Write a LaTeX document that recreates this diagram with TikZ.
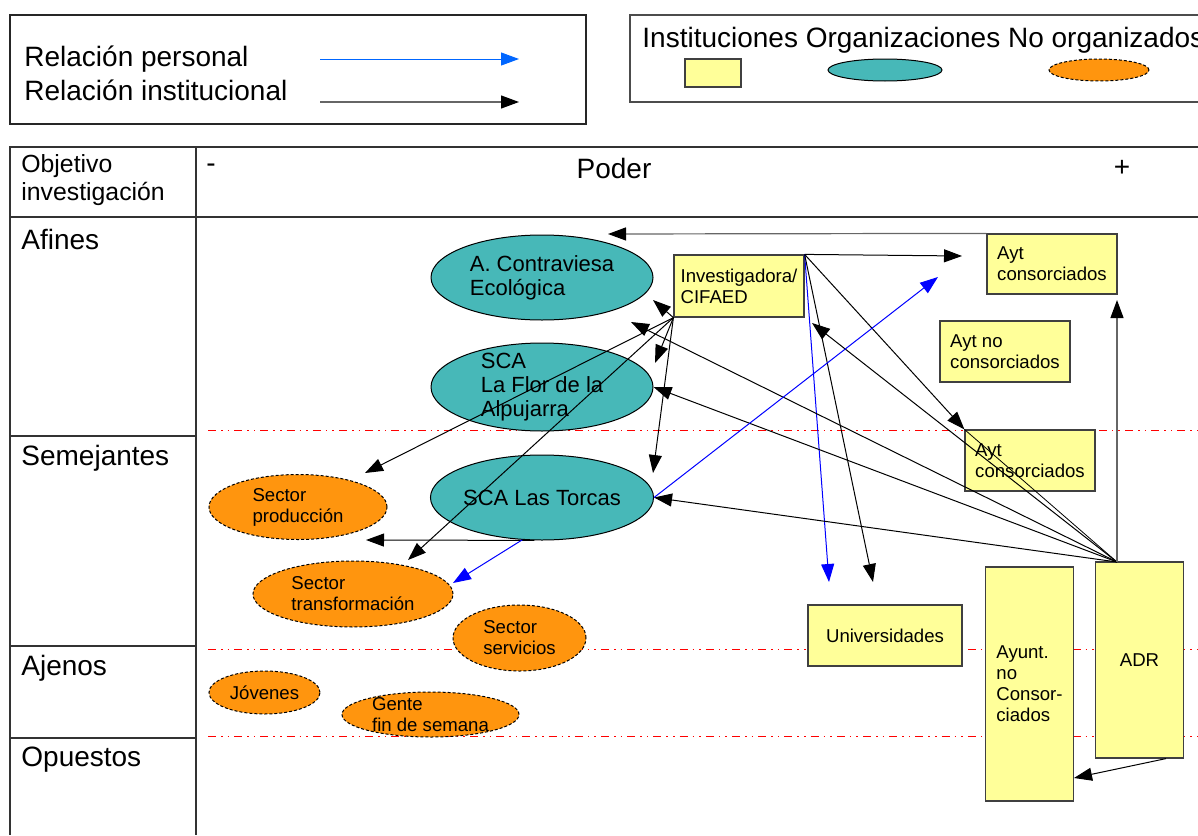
\documentclass[tikz,border=0pt]{standalone}
\usepackage{fontspec}
\setmainfont{Liberation Sans}
\usepackage{xcolor}
\definecolor{InstAmarillo}{RGB}{255,255,153}
\definecolor{OrgTurquesa}{RGB}{71,184,184}
\definecolor{NoOrgNaranja}{RGB}{255,149,14}
\definecolor{RelAzul}{RGB}{0,0,255}
\definecolor{LeyAzul}{RGB}{0,102,255}
\usepackage{tikz}
\usetikzlibrary{shapes.geometric, arrows.meta}

\begin{document}
\begin{tikzpicture}[x=0.5pt, y=-0.5pt,
	every node/.style={inner sep=0pt},
	grande/.style={font=\fontsize{14}{16}\selectfont},
	medio/.style={font=\fontsize{11}{12}\selectfont},
	chico/.style={font=\fontsize{9.3}{10.5}\selectfont},
	inst/.style={chico, rectangle, draw=black!75, fill=InstAmarillo, line width=0.6pt, align=left},
	org/.style={medio, ellipse, draw, fill=OrgTurquesa, line width=0.5pt, align=left},
	noorg/.style={chico, ellipse, draw, dash pattern=on 1.5pt off 1pt, fill=NoOrgNaranja, line width=0.5pt, align=left},
	rel/.style={-{Triangle[length=9pt,width=6.5pt]}, line width=0.5pt},
	relgris/.style={-{Triangle[length=9pt,width=6.5pt,black]}, line width=0.6pt, black!60},
	relper/.style={rel, RelAzul},
	tabla/.style={draw=black!80, line width=0.75pt},
	nivel/.style={red, line width=0.6pt, dash pattern=on 4pt off 2.5pt on 0.8pt off 2.5pt on 0.8pt off 2.5pt}]
			\clip (0,0) rectangle (1198,835);
			% Leyenda relaciones
			\draw[black!85, line width=0.6pt] (10,15) rectangle (586,124);
			\node[grande, anchor=west] (lper) at (24,59) {Relación personal};
			\node[grande, anchor=west] (linst) at (24,90) {Relación institucional};
			\coordinate (lper1) at (320,59);
			\coordinate (lper2) at (519,59);
			\coordinate (linst1) at (320,102);
			\coordinate (linst2) at (519,102);
			\draw[rel, LeyAzul] (lper1) -- (lper2);
			\draw[relgris] (linst1) -- (linst2);
			% Leyenda actores
			\draw[black!70, line width=0.6pt] (1198,15) -- (630,15) -- (630,102) -- (1198,102);
			\node[grande, anchor=west] (lactores) at (642,40) {Instituciones Organizaciones No organizados};
			\node[inst, minimum width=28pt, minimum height=14pt] (lcaja) at (713,73) {};
			\node[org, minimum width=57pt, minimum height=11pt] (lorg) at (885,70) {};
			\node[noorg, minimum width=50pt, minimum height=11pt] (lnoorg) at (1099,70) {};
			% Tabla
			\draw[tabla] (1198,147) -- (10,147) -- (10,835);
			\draw[tabla] (10,217) -- (1198,217);
			\draw[tabla] (196,147) -- (196,835);
			\foreach \y in {436,646,738}
				\draw[tabla] (10,\y) -- (196,\y);
			\node[anchor=west, align=left, font=\fontsize{12.4}{14}\selectfont] (objetivo) at (21,180) {Objetivo\\investigación};
			\node[grande] (menos) at (211,168) {-};
			\node[grande] (poder) at (614,168) {Poder};
			\node[grande] (mas) at (1122,168) {+};
			\node[grande, anchor=west] (afines) at (21,239) {Afines};
			\node[grande, anchor=west] (semejantes) at (21,458) {Semejantes};
			\node[grande, anchor=west] (ajenos) at (21,668) {Ajenos};
			\node[grande, anchor=west] (opuestos) at (21,760) {Opuestos};
			\foreach \y in {430.5,649.5,736.5}
				\draw[nivel] (208,\y) -- (1198,\y);
			% Organizaciones
			\node[org, minimum width=111pt, minimum height=42.5pt] (contraviesa) at (542,277.5) {A. Contraviesa\\Ecológica};
			\node[org, minimum width=111pt, minimum height=44pt, inner ysep=-2pt] (laflor) at (542,387) {SCA\\La Flor de la\\Alpujarra};
			\node[org, minimum width=111pt, minimum height=42.5pt] (torcas) at (542,497.5) {SCA Las Torcas};
			% No organizados
			\node[noorg, minimum width=89pt, minimum height=32.5pt] (produccion) at (298,507) {Sector\\producción};
			\node[noorg, minimum width=100pt, minimum height=33pt] (transformacion) at (353,594) {Sector\\transformación};
			\node[noorg, minimum width=66.5pt, minimum height=33pt] (servicios) at (519.5,638) {Sector\\servicios};
			\node[noorg, minimum width=55.5pt, minimum height=21.5pt] (jovenes) at (264.5,692.5) {Jóvenes};
			\node[noorg, minimum width=88.5pt, minimum height=22.5pt, inner ysep=-1pt] (gente) at (430.5,714.5) {Gente\\fin de semana};
			% Instituciones
			\node[inst, minimum width=65pt, minimum height=31pt] (cifaed) at (739,286) {Investigadora/\\CIFAED};
			\node[inst, minimum width=65pt, minimum height=30pt] (aytcons) at (1052,264) {Ayt\\consorciados};
			\node[inst, minimum width=65pt, minimum height=30.5pt] (aytnocons) at (1005,351.5) {Ayt no\\consorciados};
			\node[inst, minimum width=65pt, minimum height=30.5pt] (aytcons2) at (1030,460.5) {Ayt\\consorciados};
			\node[inst, minimum width=77pt, minimum height=30.5pt] (univ) at (885,635.5) {Universidades};
			\node[inst, minimum width=44pt, minimum height=117pt] (ayunt) at (1029.5,684) {Ayunt.\\no\\Consor-\\ciados};
			\node[inst, minimum width=44pt, minimum height=98pt] (adr) at (1139.5,660) {ADR};
			% Extremos libres de las flechas
			\coordinate (fAyt) at (608,234);
			\coordinate (fCifaedAyt) at (962,256);
			\coordinate (fUnivAzul) at (829,582);
			\coordinate (fUnivNegra) at (873,582);
			\coordinate (fContra1) at (653,300);
			\coordinate (fFlor1) at (655,363);
			\coordinate (fTorcas1) at (653,473);
			\coordinate (fProd1) at (365,473);
			\coordinate (fTransf1) at (408,560);
			\coordinate (adrtop) at (1117,562);
			\coordinate (fContra2) at (631,322);
			\coordinate (fCifaed2) at (812,323);
			\coordinate (fAytAdr) at (1117,300);
			\coordinate (fAyunt) at (1074,778);
			\coordinate (fTorcasAzul) at (938,277);
			\coordinate (fProd2) at (366,540);
			\coordinate (fTransf2) at (453,583);
			% Relaciones desde la investigadora
			\draw[relgris] (aytcons.north west) -- (fAyt);
			\draw[rel] (cifaed.north east) -- (fCifaedAyt);
			\draw[rel] (cifaed.north east) -- (aytcons2.north west);
			\draw[relper] (cifaed.north east) -- (fUnivAzul);
			\draw[rel] (cifaed.north east) -- (fUnivNegra);
			\draw[rel] (cifaed.south west) -- (fContra1);
			\draw[rel] (cifaed.south west) -- (fFlor1);
			\draw[rel] (cifaed.south west) -- (fTorcas1);
			\draw[rel] (cifaed.south west) -- (fProd1);
			\draw[rel] (cifaed.south west) -- (fTransf1);
			% Relaciones desde ADR
			\draw[rel] (adrtop) -- (torcas.east);
			\draw[rel] (adrtop) -- (laflor.east);
			\draw[rel] (adrtop) -- (fContra2);
			\draw[rel] (adrtop) -- (fCifaed2);
			\draw (adrtop) -- (aytcons2.north west);
			\draw[relgris] (adrtop) -- (fAytAdr);
			\draw[rel] (adr.-75) -- (fAyunt);
			% Relaciones desde Las Torcas
			\draw[relper] (torcas.east) -- (fTorcasAzul);
			\draw[rel] (torcas.-100) -- (fProd2);
			\draw[relper] (torcas.-115) -- (fTransf2);
			\end{tikzpicture}
\end{document}
